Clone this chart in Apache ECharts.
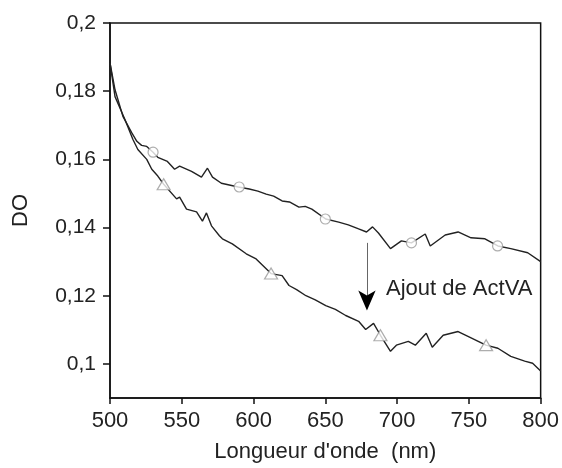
<!DOCTYPE html>
<html>
<head>
<meta charset="utf-8">
<script src="https://cdn.jsdelivr.net/npm/echarts@6/dist/echarts.min.js"></script>
<style>
  html, body { margin: 0; padding: 0; background: #fff; }
  #chart { width: 562px; height: 468px; }
</style>
</head>
<body>
<div id="chart"></div>
<script>
// wavelength (nm) / DO pairs
var avantWl = [500, 503.5, 509, 515, 518.7, 522, 525.6, 530, 533.3, 540, 545, 548.5, 556.8, 563.7, 567.9, 571.4, 577.6, 589.4, 597, 603, 608.8, 614, 619.9, 625, 631.6, 636, 640.6, 650.3, 659.3, 666, 673.2, 678.7, 682.9, 687, 695.4, 703, 710, 719.6, 723.1, 733.5, 742.5, 751.5, 761.2, 770.2, 779.2, 791, 800];
var avantDO = [0.1883, 0.1804, 0.1726, 0.1679, 0.1653, 0.1641, 0.1638, 0.1621, 0.1606, 0.1594, 0.1571, 0.1580, 0.1565, 0.1548, 0.1574, 0.1548, 0.1530, 0.1519, 0.1513, 0.1507, 0.1498, 0.1492, 0.1478, 0.1475, 0.1460, 0.1462, 0.1454, 0.1425, 0.1416, 0.1408, 0.1396, 0.1387, 0.1402, 0.1384, 0.1338, 0.1361, 0.1355, 0.1381, 0.1346, 0.1378, 0.1387, 0.1370, 0.1367, 0.1346, 0.1338, 0.1326, 0.1300];

var apresWl = [500, 503.5, 510.4, 515.9, 519.4, 525.6, 529.1, 533.3, 537.4, 546.4, 548.5, 553.3, 560.3, 564.4, 567.2, 570.7, 576.2, 578.3, 585.2, 594.9, 601.8, 612.2, 619.9, 624.7, 630, 636.5, 643, 650.3, 657, 664.2, 673.2, 678.1, 683.6, 688.4, 695.4, 699.5, 707.8, 712.7, 720.3, 724.5, 732.1, 742.5, 750.8, 761.9, 770.2, 779.2, 788.9, 794.4, 800];
var apresDO = [0.1883, 0.1784, 0.1717, 0.1659, 0.1629, 0.1600, 0.1571, 0.1551, 0.1527, 0.1484, 0.1489, 0.1454, 0.1446, 0.1419, 0.1443, 0.1405, 0.1376, 0.1367, 0.1352, 0.1323, 0.1308, 0.1265, 0.1259, 0.1230, 0.1218, 0.1200, 0.1188, 0.1171, 0.1160, 0.1142, 0.1125, 0.1101, 0.1119, 0.1084, 0.1037, 0.1055, 0.1066, 0.1055, 0.1090, 0.1049, 0.1084, 0.1095, 0.1078, 0.1055, 0.1046, 0.1022, 0.1008, 0.1002, 0.0979];

// marker positions
var cercles = [[530, 0.1621], [590, 0.1519], [650, 0.1425], [710, 0.1355], [770, 0.1346]];
var triangles = [[537.4, 0.1527], [612.2, 0.1265], [688.4, 0.1084], [762, 0.1055]];

var yTicks = [0.1, 0.12, 0.14, 0.16, 0.18, 0.2];

function paires(xs, ys) {
  var out = [];
  for (var i = 0; i < xs.length; i++) out.push([xs[i], ys[i]]);
  return out;
}

var police = 'Liberation Sans, Arial, sans-serif';
var chart = echarts.init(document.getElementById('chart'));

var option = {
  animation: false,
  backgroundColor: '#fff',
  grid: {
    left: 110, right: 19, top: 23, bottom: 68,
    show: true, borderColor: '#111', borderWidth: 1.5, backgroundColor: 'transparent'
  },
  xAxis: {
    type: 'value',
    min: 500, max: 800, interval: 50,
    name: "Longueur d'onde  (nm)",
    nameLocation: 'middle',
    nameGap: 43,
    nameTextStyle: { fontFamily: police, fontSize: 22, color: '#222' },
    axisLine: { show: true, lineStyle: { color: '#111', width: 1.5 } },
    axisTick: { show: true, inside: false, length: 6, lineStyle: { color: '#111', width: 1.5 } },
    axisLabel: { fontFamily: police, fontSize: 22, color: '#222', margin: 12 },
    splitLine: { show: false }
  },
  yAxis: {
    type: 'value',
    min: 0.09, max: 0.2,
    name: 'DO',
    nameLocation: 'middle',
    nameGap: 78,
    nameTextStyle: { fontFamily: police, fontSize: 22, color: '#222' },
    axisLine: { show: true, lineStyle: { color: '#111', width: 1.5 } },
    axisTick: { show: true, inside: false, length: 7, customValues: yTicks, lineStyle: { color: '#111', width: 1.5 } },
    axisLabel: {
      fontFamily: police, fontSize: 21, color: '#222', margin: 14,
      customValues: yTicks,
      formatter: function (v) { return String(+v.toFixed(2)).replace('.', ','); }
    },
    splitLine: { show: false }
  },
  series: [
    {
      type: 'line',
      data: paires(avantWl, avantDO),
      showSymbol: false,
      lineStyle: { color: '#222', width: 1.4 },
      z: 2
    },
    {
      type: 'line',
      data: paires(apresWl, apresDO),
      showSymbol: false,
      lineStyle: { color: '#222', width: 1.4 },
      z: 2,
      markLine: {
        silent: true,
        symbol: ['none', 'none'],
        label: { show: false },
        lineStyle: { color: '#666', width: 1, type: 'solid' },
        data: [[{ coord: [679, 0.1355] }, { coord: [679, 0.1165] }]]
      },
      markPoint: {
        silent: true,
        symbol: 'arrow',
        symbolSize: [13, 20],
        symbolRotate: 180,
        itemStyle: { color: '#000' },
        label: { show: false },
        data: [{ coord: [679, 0.1157] }]
      }
    },
    {
      type: 'scatter',
      data: cercles,
      symbol: 'circle',
      symbolSize: 10,
      itemStyle: { color: '#fff', borderColor: '#999', borderWidth: 1.2 },
      z: 3
    },
    {
      type: 'scatter',
      data: triangles,
      symbol: 'triangle',
      symbolSize: [13, 11],
      itemStyle: { color: '#fff', borderColor: '#999', borderWidth: 1.2 },
      z: 3
    }
  ],
  graphic: [
    {
      type: 'text',
      left: 386, top: 278,
      style: { text: 'Ajout de ActVA', font: '22px ' + police, fill: '#222' }
    }
  ]
};

chart.setOption(option);
</script>
</body>
</html>
